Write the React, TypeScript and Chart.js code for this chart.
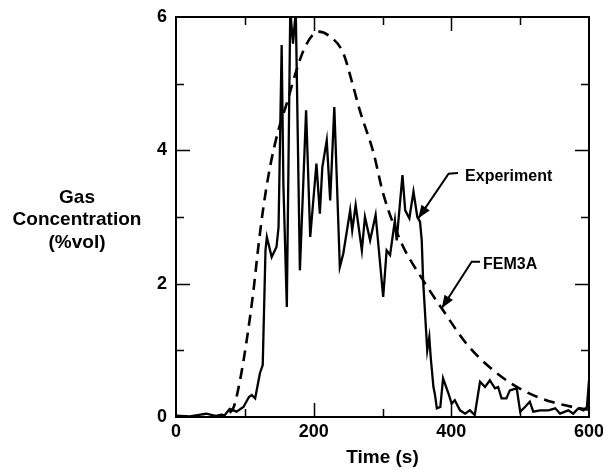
import React, { useEffect, useRef } from "react";
import { Chart, registerables } from "chart.js";

Chart.register(...registerables);

// Experiment (solid)
const expTime = [0, 20, 44, 60, 71, 78, 88, 98, 106, 110, 115, 122, 126, 130, 132, 139, 146, 149, 153.5, 156, 161, 166, 170, 174, 180, 189, 195, 204, 209, 212.6, 219, 224, 230, 238, 243, 253, 256, 261, 270, 274.5, 282, 290, 301, 306, 311, 318, 320.6, 329, 333, 339, 345, 350.6, 354.5, 357, 359, 363, 365, 368, 370, 374, 376, 379, 384, 388, 395.6, 400.5, 405, 412.6, 420, 427, 434, 441.7, 449, 456, 463.5, 468, 473, 480, 485, 495, 500, 507, 514, 519, 529, 541, 551, 558, 570, 577, 584.5, 592, 597, 600];
const expConc = [0.02, 0.01, 0.05, 0.01, 0.03, 0.12, 0.08, 0.15, 0.3, 0.33, 0.28, 0.66, 0.78, 2.5, 2.7, 2.4, 2.55, 2.85, 5.58, 3.5, 1.65, 6.1, 5.6, 6.1, 2.2, 4.6, 2.7, 3.8, 3.05, 3.75, 4.15, 3.25, 4.65, 2.25, 2.45, 3.1, 2.8, 3.18, 2.5, 3.0, 2.65, 3.03, 1.8, 2.5, 2.43, 2.95, 2.65, 3.63, 3.1, 2.98, 3.38, 3.0, 2.93, 2.65, 2.05, 1.35, 1.0, 1.2, 0.9, 0.45, 0.35, 0.13, 0.15, 0.58, 0.36, 0.2, 0.25, 0.1, 0.05, 0.1, 0.03, 0.53, 0.45, 0.55, 0.43, 0.45, 0.28, 0.28, 0.4, 0.43, 0.08, 0.15, 0.23, 0.08, 0.1, 0.1, 0.13, 0.05, 0.1, 0.05, 0.13, 0.1, 0.15, 0.55];

// FEM3A (dashed)
const femTime = [0, 40, 60, 72, 83, 93, 102.7, 112, 119.6, 127, 136.6, 148.7, 160.8, 175, 187.4, 207, 222, 243, 255, 267, 287, 301, 328, 359, 388, 422, 461, 504, 548, 587, 600];
const femConc = [0, 0, 0.02, 0.05, 0.13, 0.55, 1.15, 1.85, 2.55, 3.15, 3.75, 4.3, 4.7, 5.2, 5.55, 5.78, 5.72, 5.46, 5.05, 4.6, 3.96, 3.35, 2.6, 2.05, 1.6, 1.1, 0.7, 0.4, 0.22, 0.13, 0.11];

const xTicks = [0, 100, 200, 300, 400, 500, 600];
const yTicks = [0, 1, 2, 3, 4, 5, 6];
const yTitleLines = ["Gas", "Concentration", "(%vol)"];
const xTitle = "Time (s)";
const expLabel = "Experiment";
const femLabel = "FEM3A";

const FONT = '"Liberation Sans", Arial, Helvetica, sans-serif';

function arrow(ctx: CanvasRenderingContext2D, pts: number[][]) {
  ctx.beginPath();
  ctx.moveTo(pts[0][0], pts[0][1]);
  for (let i = 1; i < pts.length; i++) ctx.lineTo(pts[i][0], pts[i][1]);
  ctx.stroke();
  const [x1, y1] = pts[pts.length - 2];
  const [x2, y2] = pts[pts.length - 1];
  const ang = Math.atan2(y2 - y1, x2 - x1);
  const L = 13, W = 5;
  ctx.beginPath();
  ctx.moveTo(x2, y2);
  ctx.lineTo(x2 - L * Math.cos(ang) + W * Math.sin(ang), y2 - L * Math.sin(ang) - W * Math.cos(ang));
  ctx.lineTo(x2 - L * Math.cos(ang) - W * Math.sin(ang), y2 - L * Math.sin(ang) + W * Math.cos(ang));
  ctx.closePath();
  ctx.fill();
}

const decor = {
  id: "decor",
  afterDraw(chart: any) {
    const { ctx, chartArea: a, scales } = chart;
    const x = scales.x, y = scales.y;
    ctx.save();
    ctx.strokeStyle = "#000";
    ctx.fillStyle = "#000";
    ctx.lineWidth = 2;
    ctx.strokeRect(a.left, a.top, a.right - a.left, a.bottom - a.top);
    ctx.lineWidth = 1.5;
    for (const v of xTicks) {
      if (v === 0 || v === 600) continue;
      const px = Math.round(x.getPixelForValue(v)) + 0.5;
      const len = v % 200 === 0 ? 14 : 8;
      ctx.beginPath();
      ctx.moveTo(px, a.bottom); ctx.lineTo(px, a.bottom - len);
      ctx.moveTo(px, a.top); ctx.lineTo(px, a.top + len);
      ctx.stroke();
    }
    for (const v of yTicks) {
      if (v === 0 || v === 6) continue;
      const py = Math.round(y.getPixelForValue(v)) + 0.5;
      const len = v % 2 === 0 ? 14 : 8;
      ctx.beginPath();
      ctx.moveTo(a.left, py); ctx.lineTo(a.left + len, py);
      ctx.moveTo(a.right, py); ctx.lineTo(a.right - len, py);
      ctx.stroke();
    }
    // axis titles
    ctx.font = `bold 19px ${FONT}`;
    ctx.textAlign = "center";
    ctx.textBaseline = "middle";
    const cx = a.left - 99;
    const cy = (a.top + a.bottom) / 2 + 3;
    yTitleLines.forEach((t, i) => ctx.fillText(t, cx, cy + (i - 1) * 22.5));
    ctx.fillText(xTitle, (a.left + a.right) / 2, a.bottom + 41);
    // annotations
    ctx.font = `bold 16px ${FONT}`;
    ctx.textAlign = "left";
    ctx.fillText(expLabel, x.getPixelForValue(420), y.getPixelForValue(3.6));
    ctx.fillText(femLabel, x.getPixelForValue(446), y.getPixelForValue(2.28));
    ctx.lineWidth = 2;
    const P = (t: number, c: number) => [x.getPixelForValue(t), y.getPixelForValue(c)];
    arrow(ctx, [P(409.7, 3.66), P(396, 3.65), P(352, 2.98)]);
    arrow(ctx, [P(441.7, 2.33), P(429.6, 2.33), P(386, 1.63)]);
    ctx.restore();
  },
};

export default function App() {
  const ref = useRef<HTMLCanvasElement>(null);
  useEffect(() => {
    if (!ref.current) return;
    const chart = new Chart(ref.current, {
      type: "line",
      data: {
        datasets: [
          {
            label: "Experiment",
            data: expTime.map((t, i) => ({ x: t, y: expConc[i] })),
            borderColor: "#000",
            borderWidth: 2.3,
            pointRadius: 0,
            tension: 0,
            fill: false,
          },
          {
            label: "FEM3A",
            data: femTime.map((t, i) => ({ x: t, y: femConc[i] })),
            borderColor: "#000",
            borderWidth: 2.6,
            borderDash: [11, 7],
            pointRadius: 0,
            cubicInterpolationMode: "monotone",
            fill: false,
          },
        ],
      },
      options: {
        animation: false,
        responsive: false,
        devicePixelRatio: 1,
        layout: { padding: { left: 0, top: 17, right: 14, bottom: 0 } },
        plugins: { legend: { display: false }, tooltip: { enabled: false } },
        scales: {
          x: {
            type: "linear",
            min: 0,
            max: 600,
            afterFit: (s: any) => { s.height = 53; s.paddingLeft = 0; s.paddingRight = 0; },
            afterBuildTicks: (s: any) => { s.ticks = xTicks.map((v) => ({ value: v })); },
            ticks: {
              callback: (v: any) => (Number(v) % 200 === 0 ? String(v) : ""),
              font: { family: FONT, size: 18, weight: "bold" },
              color: "#000",
              padding: 4,
              maxRotation: 0,
              autoSkip: false,
            },
            grid: { display: false, drawTicks: false },
            border: { display: false },
          },
          y: {
            type: "linear",
            min: 0,
            max: 6,
            afterFit: (s: any) => { s.width = 176; s.paddingTop = 0; s.paddingBottom = 0; },
            afterBuildTicks: (s: any) => { s.ticks = yTicks.map((v) => ({ value: v })); },
            ticks: {
              callback: (v: any) => (Number(v) % 2 === 0 ? String(v) : ""),
              font: { family: FONT, size: 18, weight: "bold" },
              color: "#000",
              padding: 9,
              autoSkip: false,
            },
            grid: { display: false, drawTicks: false },
            border: { display: false },
          },
        },
      },
      plugins: [decor],
    } as any);
    return () => chart.destroy();
  }, []);
  return (
    <div style={{ position: "absolute", left: 0, top: 0, width: 603, height: 470, background: "#fff" }}>
      <canvas ref={ref} width={603} height={470} />
    </div>
  );
}
